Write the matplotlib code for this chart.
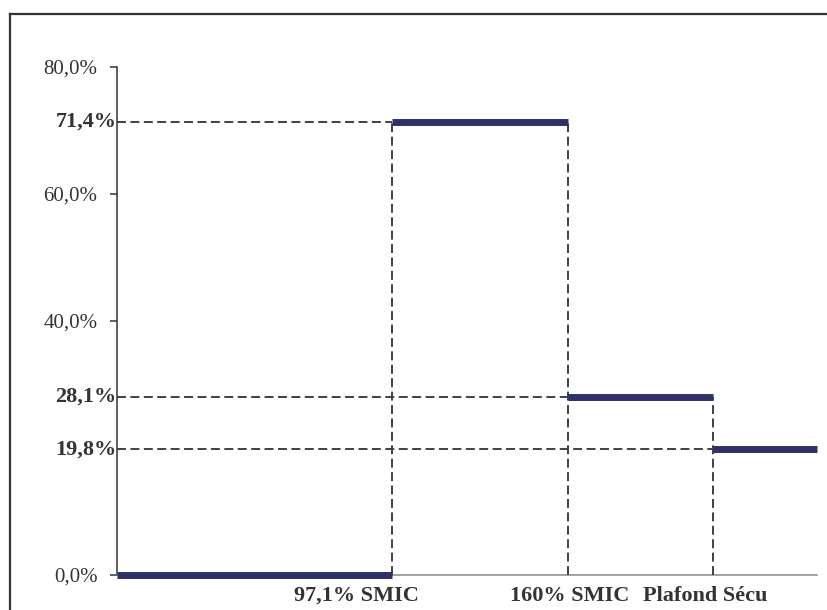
import matplotlib
matplotlib.use("Agg")
import matplotlib.pyplot as plt
from matplotlib.lines import Line2D

# Breakpoints (in SMIC multiples) and rate levels (%)
breaks = [0.0, 0.971, 1.6, 2.12, 2.49]
rates = [0.0, 71.4, 28.1, 19.8]
break_labels = ["97,1% SMIC", "160% SMIC", "Plafond Sécu"]
label_shift = [-35, 2, -8]  # pixel offsets of the x labels
yticks = [0, 40, 60, 80]
ytick_labels = ["0,0%", "40,0%", "60,0%", "80,0%"]
level_labels = ["71,4%", "28,1%", "19,8%"]

W, H = 828, 610
plt.rcParams["font.family"] = ["Liberation Serif", "DejaVu Serif"]
text_col = "#333333"
step_col = "#2e3167"

fig = plt.figure(figsize=(W / 100, H / 100), dpi=100)
ax = fig.add_axes([117 / W, 1 - 575 / H, 700 / W, 508 / H])
x0 = -0.01
ax.set_xlim(x0, 2.49)
ax.set_ylim(0, 80)

# ====================== step segments ======================
for i, r in enumerate(rates):
    left = x0 if i == 0 else breaks[i]
    ax.plot([left, breaks[i + 1]], [r, r], color=step_col, lw=5,
            solid_capstyle="butt", clip_on=False, zorder=5)

# ====================== dashed guides ======================
dash = dict(color="#404040", lw=1.4, ls=(0, (4.6, 2.3)), zorder=3)
for i in range(1, len(rates)):
    top = max(rates[i - 1], rates[i])
    ax.plot([breaks[i], breaks[i]], [0, top], **dash)
    ax.plot([x0, breaks[i]], [rates[i], rates[i]], **dash)

ax.spines["top"].set_visible(False)
ax.spines["right"].set_visible(False)
ax.spines["left"].set_color(text_col)
ax.spines["left"].set_linewidth(1.1)
ax.spines["bottom"].set_color("#888888")
ax.spines["bottom"].set_linewidth(1.1)

ax.set_xticks([])
ax.set_yticks(yticks)
ax.set_yticklabels(ytick_labels, fontsize=15, color=text_col)
ax.tick_params(axis="y", length=5, width=1.1, color=text_col, pad=9)

for r, lab in zip(rates[1:], level_labels):
    ax.text(-0.012, r, lab, ha="right", va="center", fontsize=16,
            fontweight="bold", color=text_col, clip_on=False)

for b, lab, dx in zip(breaks[1:4], break_labels, label_shift):
    ax.annotate(lab, xy=(b, 0), xycoords=("data", "axes fraction"),
                xytext=(dx * 0.72, -15), textcoords="offset points",
                ha="center", va="center", fontsize=16, fontweight="bold",
                color=text_col, annotation_clip=False)

# ====================== outer frame ======================
fig.add_artist(Line2D([10 / W, 10 / W], [0, 1 - 14 / H], transform=fig.transFigure,
                      color=text_col, lw=1.6))
fig.add_artist(Line2D([10 / W, 1], [1 - 14 / H, 1 - 14 / H], transform=fig.transFigure,
                      color=text_col, lw=1.6))

fig.savefig("out.png", dpi=100)
